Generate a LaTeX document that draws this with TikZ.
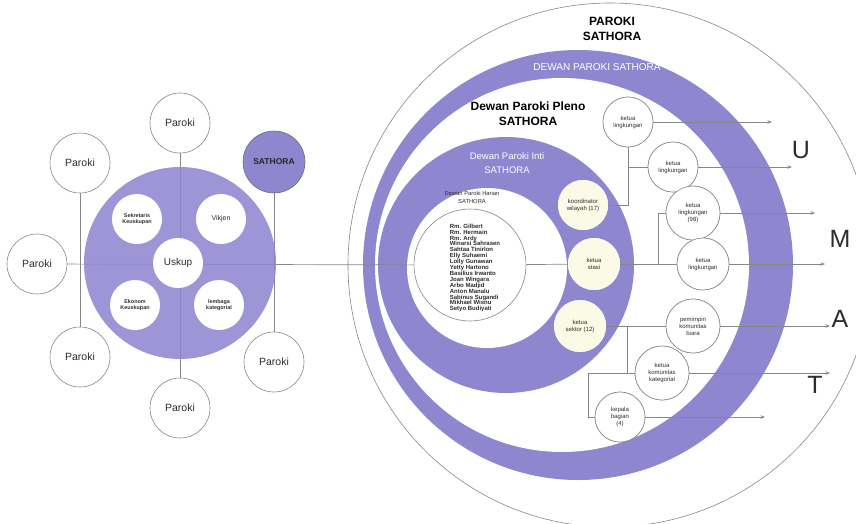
\documentclass[tikz,border=0pt]{standalone}
\usepackage{fontspec}
\setmainfont{Liberation Sans}
\usetikzlibrary{arrows.meta}
\definecolor{pur}{RGB}{143,134,208}
\definecolor{lin}{RGB}{135,135,135}
\definecolor{cre}{RGB}{250,250,230}
\definecolor{txt}{RGB}{45,45,45}
\begin{document}
\begin{tikzpicture}[x=1pt,y=-1pt,
  circ/.style={circle, draw=lin, line width=0.6pt, fill=white, inner sep=0pt, minimum size=#1, align=center, text=txt},
  circ/.default=50,
  par/.style={circ=60, font=\fontsize{10.5}{12}\selectfont},
  inw/.style={circle, fill=white, inner sep=0pt, minimum size=50, align=center, text=txt, font=\fontsize{5.4}{6.2}\selectfont\bfseries},
  sm/.style={circ=#1, font=\fontsize{6}{7}\selectfont},
  sm/.default=50,
  yel/.style={circle, fill=cre, inner sep=0pt, minimum size=#1, align=center, text=txt, font=\fontsize{6}{7}\selectfont},
  yel/.default=50,
  ring/.style={circle, inner sep=0pt, minimum size=#1},
  conn/.style={draw=lin, line width=0.7pt},
  arr/.style={conn, -{Stealth[length=4.5pt,width=3.5pt]}},
  big/.style={font=\fontsize{25}{28}\selectfont, text=txt}
]
\useasboundingbox (0,0) rectangle (856,523);
\clip (0,0) rectangle (856,523);

% ---------- right rings ----------
\node[ring=524, draw=lin, line width=0.6pt, fill=white] (paroki) at (610,265) {};
\node[ring=430, fill=pur] (dewan) at (578,265) {};
\node[ring=374, fill=white] (pleno) at (562,265) {};
\node[ring=256, fill=pur] (inti) at (506,265) {};
\node[ring=160, fill=white] (harian) at (487,268) {};
\node[ring=112, draw=lin, line width=0.6pt, fill=white] (names) at (470,265) {};

\node[font=\fontsize{12}{15}\selectfont\bfseries, align=center, text=black] (lparoki) at (612,29) {PAROKI\\SATHORA};
\node[font=\fontsize{10}{12}\selectfont, text=white] (ldewan) at (597,67) {DEWAN PAROKI SATHORA};
\node[font=\fontsize{12}{15}\selectfont\bfseries, align=center, text=black] (lpleno) at (528,114) {Dewan Paroki Pleno\\SATHORA};
\node[font=\fontsize{9.5}{14}\selectfont, align=center, text=white] (linti) at (507,163) {Dewan Paroki Inti\\SATHORA};
\node[font=\fontsize{5.8}{8}\selectfont, align=center, text=txt] (lharian) at (472,197) {Dewan Paroki Harian\\SATHORA};
\node[font=\fontsize{6}{5.9}\selectfont\bfseries, align=left, text=txt] (namelist) at (475,268) {Rm. Gilbert\\Rm. Hermain\\Rm. Ardy\\Winarsi Sahrasen\\Sahtaa Tinirlon\\Elly Suhaemi\\Lolly Gunawan\\Yetty Hartono\\Basilius Irwanto\\Joan Wingara\\Arbo Madjid\\Anton Manalu\\Sabinus Sugandi\\Mikhael Wisnu\\Setyo Budiyati};

% ---------- coordinates ----------
\coordinate (e1) at (772,122);
\coordinate (e2) at (792,167);
\coordinate (e3) at (815,213);
\coordinate (e4) at (825,264);
\coordinate (e5) at (830,326);
\coordinate (e6) at (830,373);
\coordinate (e7) at (765,417);
\coordinate (j1) at (628,205);
\coordinate (j2) at (628,167);
\coordinate (j3) at (658,264);
\coordinate (j4) at (658,213);
\coordinate (j5) at (627,326);
\coordinate (j6) at (627,373);
\coordinate (j7) at (588,373);
\coordinate (j8) at (588,417);

% ---------- right nodes ----------
\node[yel=50] (koor) at (583,205) {koordinator\\wilayah (17)};
\node[yel=52] (stasi) at (594,264) {ketua\\stasi};
\node[yel=52] (sektor) at (580,326) {ketua\\sektor (12)};
\node[sm=50] (L1) at (628,122) {ketua\\lingkungan};
\node[sm=50] (L2) at (673,167) {ketua\\lingkungan};
\node[sm=54] (L3) at (693,213) {ketua\\lingkungan\\(98)};
\node[sm=52] (L4) at (703,264) {ketua\\lingkungan};
\node[sm=54] (P) at (693,326) {pemimpin\\komunitas\\biara};
\node[sm=54] (K) at (662,373) {ketua\\komunitas\\kategorial};
\node[sm=50] (B) at (620,417) {kepala\\bagian\\(4)};

% ---------- left nodes ----------
\node[par] (pTop) at (180,123) {Paroki};
\node[par] (pUL) at (80,163) {Paroki};
\node[par] (pL) at (37,264) {Paroki};
\node[par] (pBL) at (80,357) {Paroki};
\node[par] (pB) at (180,408) {Paroki};
\node[par] (pBR) at (274,362) {Paroki};
\node[circ=62, fill=pur, draw=lin!80!black, font=\fontsize{8.5}{10}\selectfont\bfseries, text=black!85] (sath) at (274,162) {SATHORA};

% ---------- connectors ----------
\draw[conn] (pTop) -- (pB);
\draw[conn] (pUL) -- (pBL);
\draw[conn] (sath) -- (pBR);
\draw[conn] (pL) -- (names);
\draw[conn] (names) -- (stasi);
\draw[conn] (stasi) -- (L4);
\draw[conn] (j3) -- (j4) -- (L3);
\draw[conn] (koor) -- (j1) -- (L1);
\draw[conn] (j2) -- (L2);
\draw[conn] (sektor) -- (P);
\draw[conn] (j5) -- (j6);
\draw[conn] (j7) -- (K);
\draw[conn] (j7) -- (j8) -- (B);
\draw[arr] (L1) -- (e1);
\draw[arr] (L2) -- (e2);
\draw[arr] (L3) -- (e3);
\draw[arr] (L4) -- (e4);
\draw[arr] (P) -- (e5);
\draw[arr] (K) -- (e6);
\draw[arr] (B) -- (e7);

% redraw nodes on top of lines
\node[yel=50] at (koor) {koordinator\\wilayah (17)};
\node[yel=52] at (stasi) {ketua\\stasi};
\node[yel=52] at (sektor) {ketua\\sektor (12)};
\node[sm=50] at (L1) {ketua\\lingkungan};
\node[sm=50] at (L2) {ketua\\lingkungan};
\node[sm=54] at (L3) {ketua\\lingkungan\\(98)};
\node[sm=52] at (L4) {ketua\\lingkungan};
\node[sm=54] at (P) {pemimpin\\komunitas\\biara};
\node[sm=54] at (K) {ketua\\komunitas\\kategorial};
\node[sm=50] at (B) {kepala\\bagian\\(4)};

% ---------- left cluster ----------
\node[ring=192, fill=pur, fill opacity=0.88] (dioc) at (180,263) {};
\node[inw] (sekr) at (137,219) {Sekretaris\\Keuskupan};
\node[inw, font=\fontsize{7}{8}\selectfont] (vikjen) at (221,219) {Vikjen};
\node[inw, font=\fontsize{10}{12}\selectfont] (uskup) at (178,263) {Uskup};
\node[inw] (ekon) at (135,305) {Ekonom\\Keuskupan};
\node[inw] (lemb) at (219,305) {lembaga\\kategorial};

% ---------- letters ----------
\node[big] (U) at (801,150) {U};
\node[big] (M) at (840,239) {M};
\node[big] (A) at (840,319) {A};
\node[big] (T) at (815,385) {T};
\end{tikzpicture}
\end{document}
